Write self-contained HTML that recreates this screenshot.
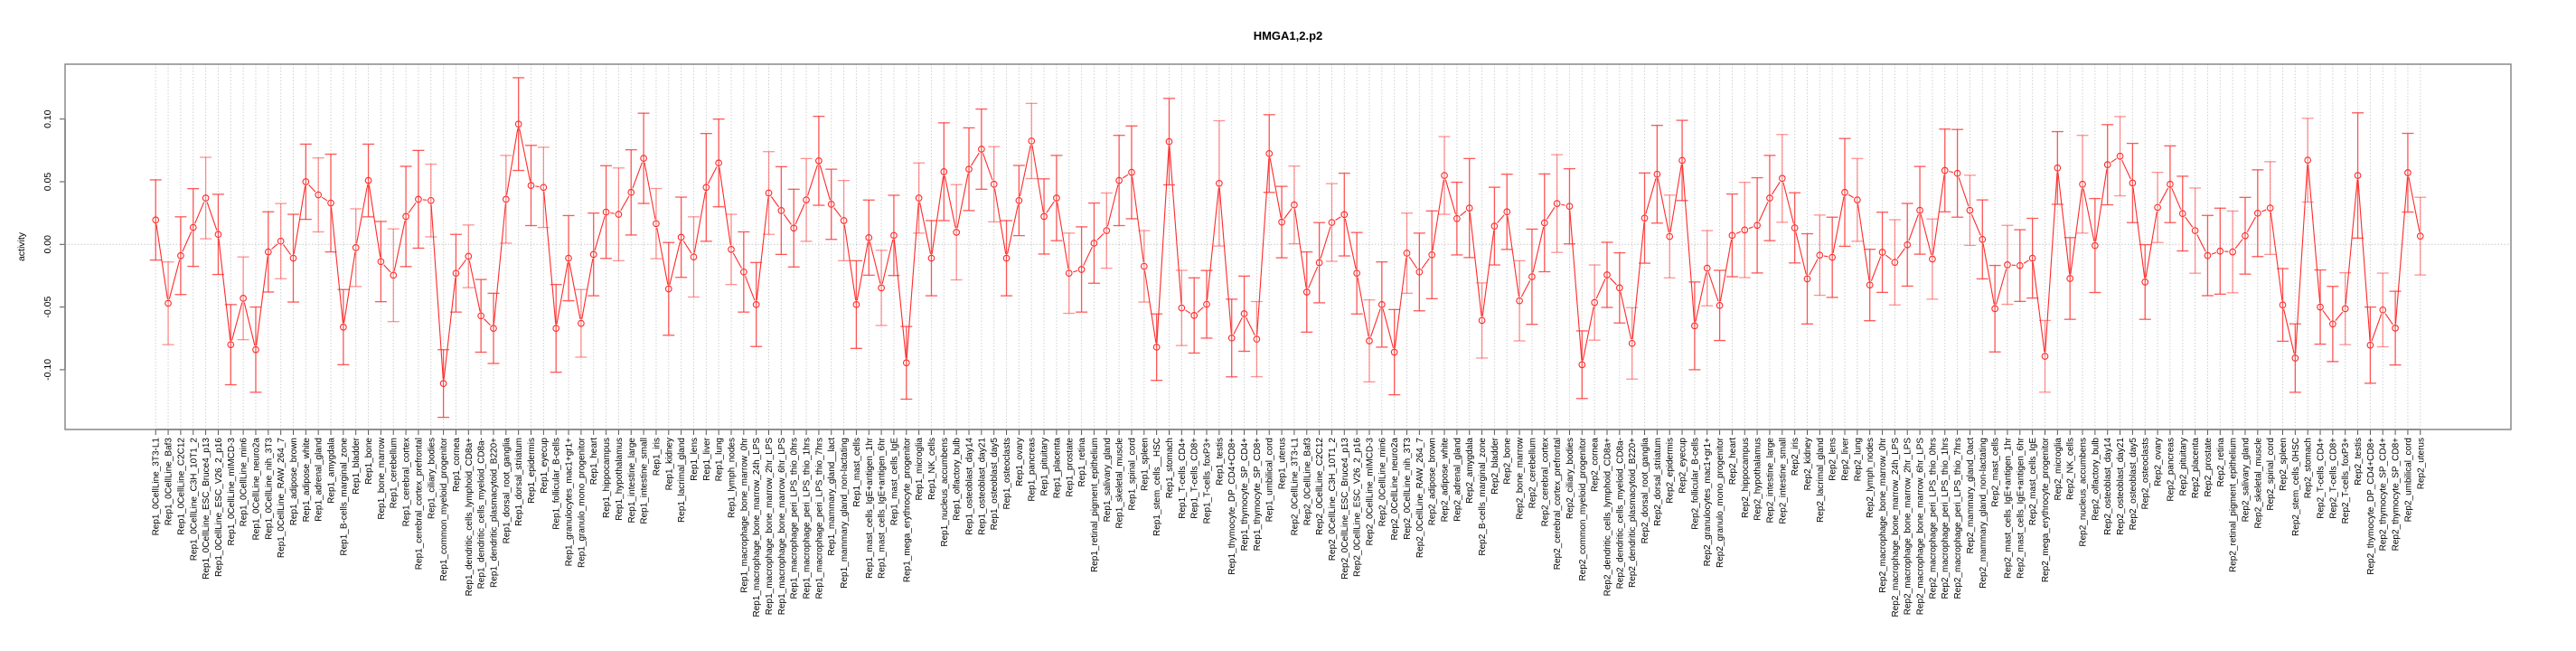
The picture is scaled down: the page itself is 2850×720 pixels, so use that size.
<!DOCTYPE html>
<html><head><meta charset="utf-8"><title>HMGA1,2.p2</title>
<style>
html,body{margin:0;padding:0;background:#fff;}
svg{display:block;font-family:"Liberation Sans",sans-serif;}
</style></head>
<body>
<svg id="chart" width="2850" height="720" viewBox="0 0 2850 720" xmlns="http://www.w3.org/2000/svg">
<rect x="0" y="0" width="2850" height="720" fill="#fff"/>
<text x="1425" y="44" text-anchor="middle" font-size="13" font-weight="bold" fill="#000">HMGA1,2.p2</text>
<text transform="translate(27,273) rotate(-90)" text-anchor="middle" font-size="10.5" fill="#000">activity</text>
<g id="grid"></g>
<g id="yaxis"></g>
<g id="xaxis"></g>
<g id="series"></g>
<rect x="72" y="71" width="2706" height="404" fill="none" stroke="#888" stroke-width="1.5"/>
</svg>
<script>
const baseNames = ["0CellLine_3T3-L1","0CellLine_Baf3","0CellLine_C2C12","0CellLine_C3H_10T1_2","0CellLine_ESC_Bruce4_p13","0CellLine_ESC_V26_2_p16","0CellLine_mIMCD-3","0CellLine_min6","0CellLine_neuro2a","0CellLine_nih_3T3","0CellLine_RAW_264_7","adipose_brown","adipose_white","adrenal_gland","amygdala","B-cells_marginal_zone","bladder","bone","bone_marrow","cerebellum","cerebral_cortex","cerebral_cortex_prefrontal","ciliary_bodies","common_myeloid_progenitor","cornea","dendritic_cells_lymphoid_CD8a+","dendritic_cells_myeloid_CD8a-","dendritic_plasmacytoid_B220+","dorsal_root_ganglia","dorsal_striatum","epidermis","eyecup","follicular_B-cells","granulocytes_mac1+gr1+","granulo_mono_progenitor","heart","hippocampus","hypothalamus","intestine_large","intestine_small","iris","kidney","lacrimal_gland","lens","liver","lung","lymph_nodes","macrophage_bone_marrow_0hr","macrophage_bone_marrow_24h_LPS","macrophage_bone_marrow_2hr_LPS","macrophage_bone_marrow_6hr_LPS","macrophage_peri_LPS_thio_0hrs","macrophage_peri_LPS_thio_1hrs","macrophage_peri_LPS_thio_7hrs","mammary_gland__lact","mammary_gland_non-lactating","mast_cells","mast_cells_IgE+antigen_1hr","mast_cells_IgE+antigen_6hr","mast_cells_IgE","mega_erythrocyte_progenitor","microglia","NK_cells","nucleus_accumbens","olfactory_bulb","osteoblast_day14","osteoblast_day21","osteoblast_day5","osteoclasts","ovary","pancreas","pituitary","placenta","prostate","retina","retinal_pigment_epithelium","salivary_gland","skeletal_muscle","spinal_cord","spleen","stem_cells__HSC","stomach","T-cells_CD4+","T-cells_CD8+","T-cells_foxP3+","testis","thymocyte_DP_CD4+CD8+","thymocyte_SP_CD4+","thymocyte_SP_CD8+","umbilical_cord","uterus"];
const rep2Names = baseNames.map(n => n === "stem_cells__HSC" ? "stem_cells_0HSC" : (n === "mammary_gland__lact" ? "mammary_gland_0act" : n));
const categories = baseNames.map(n => "Rep1_" + n).concat(rep2Names.map(n => "Rep2_" + n));

const values = [
.0195,-.047,-.009,.0135,.037,.008,-.080,-.043,-.084,-.006,.0026,-.011,.050,.0395,.033,-.066,-.0026,.051,-.0137,
-.0246,.0223,.036,.035,-.111,-.023,-.0095,-.057,-.067,.036,.096,.047,.0455,-.067,-.011,-.063,-.008,.0258,.024,
.0415,.0687,.0166,-.0355,.0057,-.010,.0455,.065,-.004,-.022,-.048,.041,.027,.013,.0355,.0667,.032,.019,-.048,
.0054,-.0347,.0072,-.0945,.037,-.011,.058,.0097,.060,.076,.048,-.011,.035,.0825,.0223,.037,-.023,-.020,.001,
.011,.051,.0575,-.0175,-.082,.082,-.0507,-.0567,-.0478,.0487,-.0747,-.0553,-.0756,.0725,.0178,
.0315,-.038,-.0146,.0175,.0238,-.023,-.077,-.048,-.086,-.007,-.022,-.0083,.055,.0206,.029,-.0607,.0146,.026,-.045,
-.0258,.0172,.0326,.0304,-.096,-.0464,-.0243,-.0347,-.079,.021,.056,.0063,.067,-.065,-.019,-.0487,.0072,.0115,.0152,
.037,.0527,.0132,-.0275,-.0086,-.0103,.0415,.0355,-.0324,-.0063,-.0143,-.0003,.0272,-.0117,.059,.0567,.0272,.004,-.0513,
-.0163,-.0169,-.011,-.0893,.061,-.0272,.048,-.0009,.0636,.0704,.049,-.030,.0295,.048,.0246,.011,-.0089,-.0054,-.006,
.0069,.0249,.029,-.0483,-.0907,.0672,-.050,-.0635,-.0513,.055,-.0804,-.0523,-.0668,.0572,.0066];

const errors = [
.032,.033,.031,.031,.0325,.032,.032,.033,.034,.032,.030,.035,.030,.0295,.039,.030,.031,.029,.032,
.037,.040,.039,.029,.027,.031,.025,.029,.028,.035,.037,.032,.032,.035,.034,.027,.033,.037,.037,
.034,.036,.028,.037,.032,.032,.043,.035,.028,.032,.0335,.033,.035,.031,.033,.0355,.028,.032,.035,
.030,.030,.032,.029,.028,.030,.039,.038,.033,.032,.030,.030,.028,.030,.030,.034,.032,.034,.032,
.030,.036,.037,.0285,.0265,.0345,.030,.030,.027,.050,.031,.030,.030,.031,.0285,
.031,.032,.032,.031,.033,.0325,.0327,.034,.034,.032,.031,.035,.031,.029,.0395,.030,.031,.030,.032,
.038,.039,.039,.030,.027,.030,.026,.028,.0285,.036,.039,.033,.032,.035,.030,.028,.033,.038,.038,
.034,.035,.028,.036,.032,.032,.043,.033,.0285,.032,.034,.033,.035,.032,.033,.035,.028,.0315,.0345,
.0315,.0286,.0318,.0286,.029,.0326,.039,.0375,.032,.0316,.0316,.0298,.028,.0306,.0298,.034,.032,.0343,.0326,
.0306,.0346,.037,.029,.0273,.0334,.0296,.030,.0287,.050,.0304,.0294,.0294,.0314,.031];

const yTicks = [-0.10, -0.05, 0.00, 0.05, 0.10];
const yTickLabels = ["-0.10", "-0.05", "0.00", "0.05", "0.10"];

const NS = "http://www.w3.org/2000/svg";
const PL = 72, PR = 2778, PT = 71, PB = 475;
const N = categories.length;
const pad = (N - 1) * 0.04;
function xs(i) { return PL + (i + pad) / ((N - 1) + 2 * pad) * (PR - PL); }
const Y0 = 270.3, K = 1386;
function ys(v) { return Y0 - v * K; }
function mk(tag, attrs, parent) {
  const e = document.createElementNS(NS, tag);
  for (const k in attrs) e.setAttribute(k, attrs[k]);
  parent.appendChild(e);
  return e;
}
const grid = document.getElementById('grid');
const yaxis = document.getElementById('yaxis');
const xaxis = document.getElementById('xaxis');
const series = document.getElementById('series');

// vertical gridlines
for (let i = 0; i < N; i++) {
  const g = mk('line', {x1: xs(i), x2: xs(i), y1: PT, y2: PB, stroke: '#d0d0d0', 'stroke-width': 1, 'stroke-dasharray': '1.5,2'}, grid);
  
  
}
const zl = mk('line', {x1: PL, x2: PR, y1: ys(0), y2: ys(0), stroke: '#c8c8c8', 'stroke-width': 1, 'stroke-dasharray': '1.5,2'}, grid);



// y axis
const ya = mk('line', {x1: PL, x2: PL, y1: ys(yTicks[0]), y2: ys(yTicks[yTicks.length - 1]), stroke: '#555', 'stroke-width': 1.5}, yaxis);


yTicks.forEach((t, k) => {
  const y = ys(t);
  const tk = mk('line', {x1: PL - 6, x2: PL, y1: y, y2: y, stroke: '#555', 'stroke-width': 1}, yaxis);
  
  
  const tl = mk('text', {transform: `translate(56,${y}) rotate(-90)`, 'text-anchor': 'middle', 'font-size': 10.5, fill: '#000'}, yaxis);
  
  
  tl.textContent = yTickLabels[k];
});

// x axis
const xa = mk('line', {x1: xs(0), x2: xs(N - 1), y1: PB, y2: PB, stroke: '#555', 'stroke-width': 1.5}, xaxis);


categories.forEach((c, i) => {
  const x = xs(i);
  const tk = mk('line', {x1: x, x2: x, y1: PB, y2: PB + 6, stroke: '#555', 'stroke-width': 1}, xaxis);
  
  
  const tl = mk('text', {transform: `translate(${x + 3.5},${PB + 9}) rotate(-90)`, 'text-anchor': 'end', 'font-size': 10, fill: '#000'}, xaxis);
  
  
  tl.textContent = c;
});

// error bars
for (let i = 0; i < N; i++) {
  const x = xs(i), v = values[i], e = errors[i];
  const yt = ys(v + e), yb = ys(v - e);
  const op = (i % 3 === 1) ? 0.55 : 0.85;
  const g = mk('g', {stroke: '#ff3b3b', 'stroke-opacity': op, 'stroke-width': 1.3}, series);
  
  
  mk('line', {x1: x, x2: x, y1: yt, y2: yb}, g);
  mk('line', {x1: x - 6.5, x2: x + 6.5, y1: yt, y2: yt}, g);
  mk('line', {x1: x - 6.5, x2: x + 6.5, y1: yb, y2: yb}, g);
}
// connecting lines (type b)
for (let i = 0; i < N - 1; i++) {
  const x1 = xs(i), y1 = ys(values[i]), x2 = xs(i + 1), y2 = ys(values[i + 1]);
  const dx = x2 - x1, dy = y2 - y1, L = Math.hypot(dx, dy), g = 4.8;
  if (L <= 2 * g) continue;
  const ux = dx / L, uy = dy / L;
  const s = mk('line', {x1: x1 + ux * g, y1: y1 + uy * g, x2: x2 - ux * g, y2: y2 - uy * g, stroke: '#ff2a2a', 'stroke-width': 1.1}, series);
  
  
}
// points
for (let i = 0; i < N; i++) {
  const p = mk('circle', {cx: xs(i), cy: ys(values[i]), r: 3.3, fill: 'none', stroke: '#ff2a2a', 'stroke-width': 1.1}, series);
  
  
}
</script>
</body></html>
